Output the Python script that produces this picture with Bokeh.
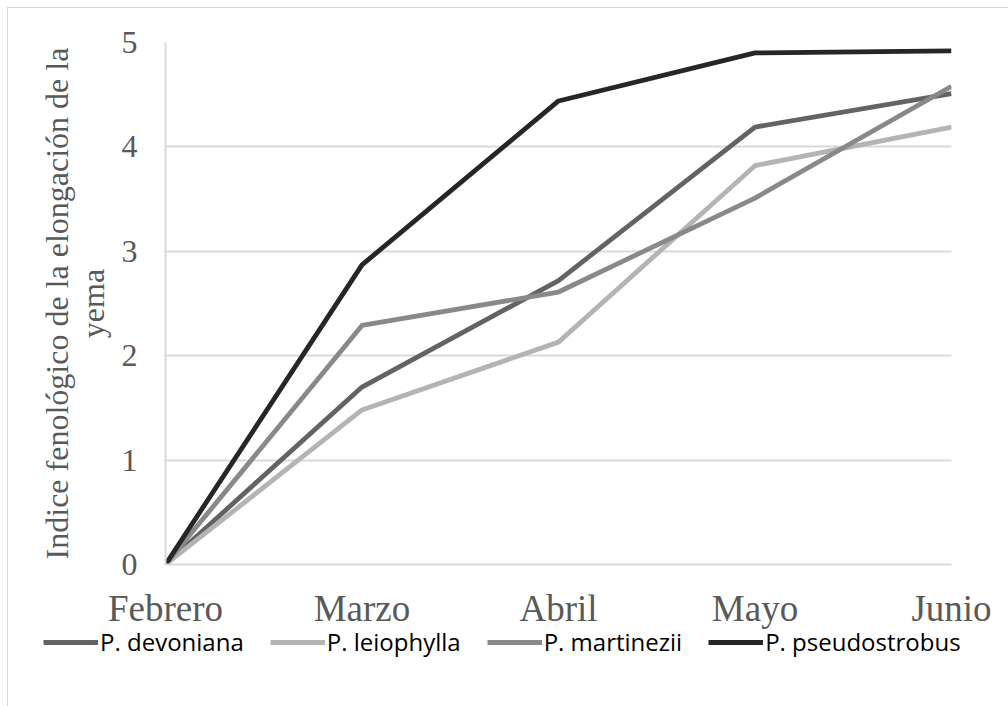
from bokeh.plotting import figure
from bokeh.layouts import column
from bokeh.models import Range1d, FixedTicker, Legend, LegendItem
from bokeh.embed import file_html
from bokeh.resources import INLINE

# Monthly bud-elongation phenology index per pine species
months = ["Febrero", "Marzo", "Abril", "Mayo", "Junio"]
devoniana = [0.0, 1.70, 2.72, 4.19, 4.51]
leiophylla = [0.0, 1.48, 2.13, 3.82, 4.19]
martinezii = [0.0, 2.29, 2.61, 3.51, 4.58]
pseudostrobus = [0.0, 2.87, 4.44, 4.90, 4.92]

series = [
    ("P. devoniana", devoniana, "#636363"),
    ("P. leiophylla", leiophylla, "#b4b4b4"),
    ("P. martinezii", martinezii, "#898989"),
    ("P. pseudostrobus", pseudostrobus, "#262626"),
]
LINE_W = 4.8

x = list(range(len(months)))

p = figure(
    width=1000, height=623,
    x_range=Range1d(0, len(months) - 1),
    y_range=Range1d(0, 5),
    output_backend="svg", toolbar_location=None,
    min_border_left=157, min_border_right=57,
    min_border_top=34, min_border_bottom=66,
)
p.frame_align = False
p.outline_line_color = None
p.background_fill_color = "white"
p.border_fill_color = "white"

for name, vals, color in series:
    p.line(x, vals, line_color=color, line_width=LINE_W,
           line_join="round", line_cap="butt")

# axes
p.xaxis.ticker = FixedTicker(ticks=x)
p.xaxis.major_label_overrides = {i: m for i, m in enumerate(months)}
p.yaxis.ticker = FixedTicker(ticks=[0, 1, 2, 3, 4, 5])

for ax in (p.xaxis[0], p.yaxis[0]):
    ax.axis_line_color = "#d9d9d9"
    ax.axis_line_width = 2
    ax.major_tick_line_color = None
    ax.minor_tick_line_color = None
    ax.major_tick_out = 0
    ax.major_tick_in = 0
    ax.major_label_text_font = "Liberation Serif"
    ax.major_label_text_color = "#595959"

p.xaxis.major_label_text_font_size = "37px"
p.xaxis.major_label_standoff = 23
p.yaxis.major_label_text_font_size = "32px"
p.yaxis.major_label_standoff = 28

p.yaxis.axis_label = "Indice fenológico de la elongación de la\nyema"
p.yaxis.axis_label_text_font = "Liberation Serif"
p.yaxis.axis_label_text_font_size = "32px"
p.yaxis.axis_label_text_font_style = "normal"
p.yaxis.axis_label_text_color = "#595959"
p.yaxis.axis_label_text_line_height = 1.0
p.yaxis.axis_label_standoff = 8

p.xgrid.grid_line_color = None
p.ygrid.grid_line_color = "#d9d9d9"
p.ygrid.grid_line_width = 2

# legend strip below the chart (transparent, tucked slightly under the axis labels)
leg = figure(
    width=1000, height=85,
    x_range=Range1d(0, 1), y_range=Range1d(0, 1),
    x_axis_type=None, y_axis_type=None,
    output_backend="svg", toolbar_location=None,
    min_border=0,
)
leg.frame_align = False
leg.margin = (-10, 0, 0, 0)
leg.outline_line_color = None
leg.background_fill_alpha = 0
leg.border_fill_alpha = 0
leg.xgrid.grid_line_color = None
leg.ygrid.grid_line_color = None

items = []
for name, vals, color in series:
    # off-screen stand-in so the legend can borrow the line style
    r = leg.line([5, 6], [5, 6], line_color=color, line_width=LINE_W)
    items.append(LegendItem(label=name, renderers=[r]))

legend = Legend(
    items=items, orientation="horizontal",
    location=(35, 48),
    glyph_width=55, glyph_height=20,
    label_standoff=2, spacing=26,
    label_text_font="Open Sans", label_text_font_size="24px",
    label_text_color="#000000",
    border_line_color=None, background_fill_alpha=0,
    padding=2, margin=0,
)
leg.add_layout(legend, "center")

page = column(p, leg, spacing=0)
page.margin = (7, 0, 0, 7)
page.styles = {"border-left": "1px solid #d9d9d9", "border-top": "1px solid #d9d9d9"}

open("out.html", "w").write(file_html(page, INLINE))
